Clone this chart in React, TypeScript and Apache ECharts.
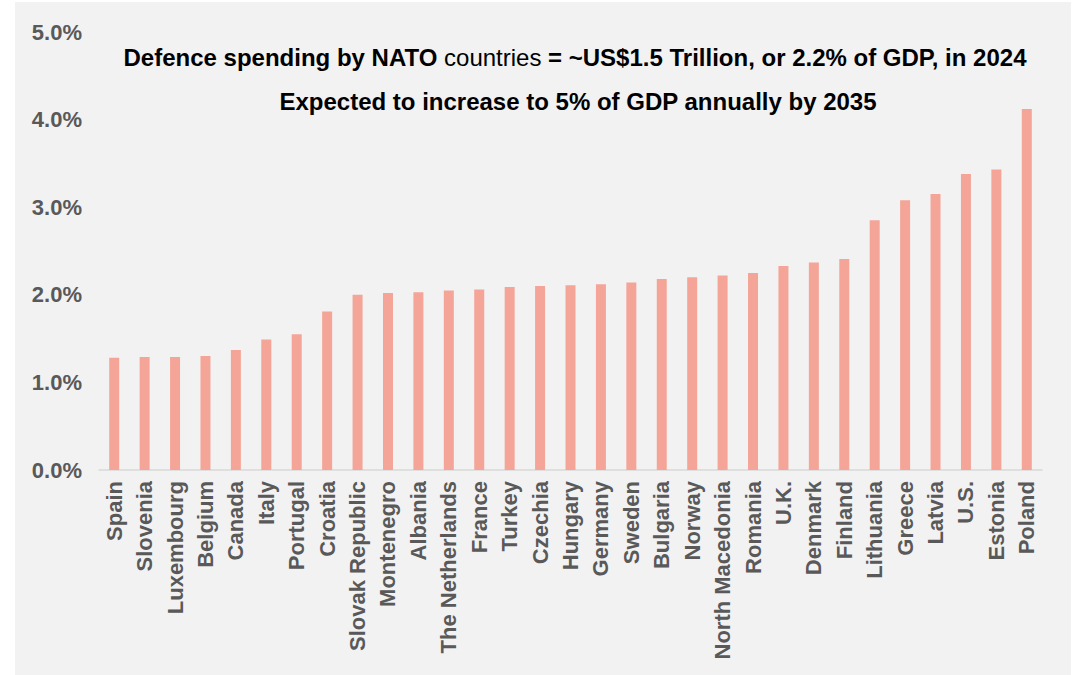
import React, { useEffect, useRef } from "react";
import * as echarts from "echarts";

const countries = [
  "Spain", "Slovenia", "Luxembourg", "Belgium", "Canada", "Italy", "Portugal", "Croatia",
  "Slovak Republic", "Montenegro", "Albania", "The Netherlands", "France", "Turkey", "Czechia",
  "Hungary", "Germany", "Sweden", "Bulgaria", "Norway", "North Macedonia", "Romania", "U.K.",
  "Denmark", "Finland", "Lithuania", "Greece", "Latvia", "U.S.", "Estonia", "Poland",
];
const spendingPctGdp = [
  1.28, 1.29, 1.29, 1.30, 1.37, 1.49, 1.55, 1.81,
  2.00, 2.02, 2.03, 2.05, 2.06, 2.09, 2.10,
  2.11, 2.12, 2.14, 2.18, 2.20, 2.22, 2.25, 2.33,
  2.37, 2.41, 2.85, 3.08, 3.15, 3.38, 3.43, 4.12,
];
const yTicks = [0, 1, 2, 3, 4, 5];
const titleLine1 = ["Defence spending by NATO", " countries ", "= ~US$1.5 Trillion, or 2.2% of GDP, in 2024"];
const titleLine2 = "Expected to increase to 5% of GDP annually by 2035";

const FONT = "'Liberation Sans', Arial, sans-serif";

export default function App() {
  const ref = useRef<HTMLDivElement>(null);
  useEffect(() => {
    if (!ref.current) return;
    const chart = echarts.init(ref.current, null, { renderer: "svg" });
    chart.setOption({
      animation: false,
      backgroundColor: "#ffffff",
      graphic: [
        {
          type: "rect",
          z: -10,
          shape: { x: 15, y: 2, width: 1056, height: 673 },
          style: { fill: "#f2f2f2" },
          silent: true,
        },
      ],
      title: [
        {
          text: `{b|${titleLine1[0]}}{r|${titleLine1[1]}}{b|${titleLine1[2]}}`,
          left: 570,
          top: 40,
          textAlign: "center",
          textStyle: {
            rich: {
              b: { fontFamily: FONT, fontWeight: "bold", fontSize: 24, color: "#000000" },
              r: { fontFamily: FONT, fontWeight: "normal", fontSize: 24, color: "#000000" },
            },
          },
        },
        {
          text: titleLine2,
          left: 573,
          top: 84,
          textAlign: "center",
          textStyle: { fontFamily: FONT, fontWeight: "bold", fontSize: 24, color: "#000000" },
        },
      ],
      grid: { left: 99, right: 32, top: 32, bottom: 205, containLabel: false },
      xAxis: {
        type: "category",
        data: countries,
        axisLine: { show: true, lineStyle: { color: "#d9d9d9", width: 1.5 } },
        axisTick: { show: false },
        axisLabel: {
          rotate: 90,
          interval: 0,
          margin: 11,
          fontFamily: FONT,
          fontWeight: "bold",
          fontSize: 22,
          color: "#595959",
        },
      },
      yAxis: {
        type: "value",
        min: yTicks[0],
        max: yTicks[yTicks.length - 1],
        interval: 1,
        axisLine: { show: false },
        axisTick: { show: false },
        splitLine: { show: false },
        axisLabel: {
          margin: 17,
          fontFamily: FONT,
          fontWeight: "bold",
          fontSize: 22,
          color: "#595959",
          formatter: (v: number) => `${v.toFixed(1)}%`,
        },
      },
      series: [
        {
          type: "bar",
          data: spendingPctGdp,
          barWidth: 10,
          itemStyle: { color: "#f4a598" },
        },
      ],
    });
    return () => chart.dispose();
  }, []);
  return (
    <div
      ref={ref}
      style={{ position: "fixed", left: 0, top: 0, width: 1074, height: 675 }}
    />
  );
}
